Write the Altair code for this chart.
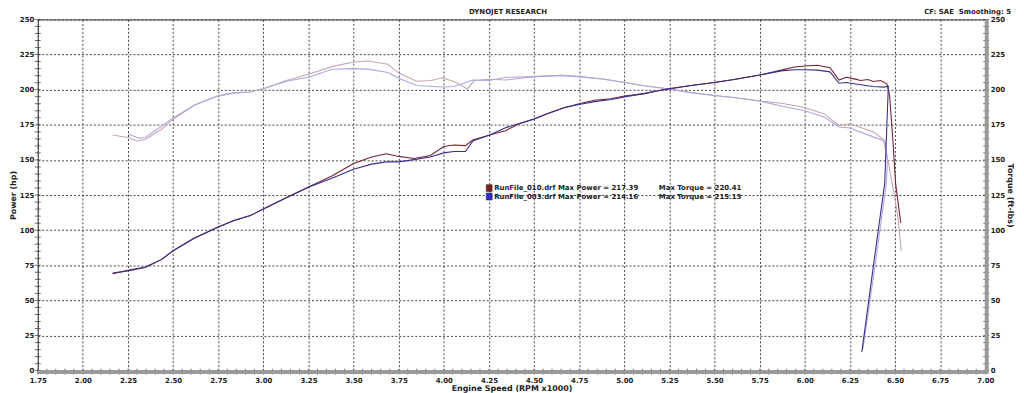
import altair as alt
import pandas as pd

# ---------------- data ----------------
P010_RPM = [2.165, 2.25, 2.346, 2.437, 2.50, 2.616, 2.75, 2.837, 2.928, 3.00, 3.127, 3.25, 3.38, 3.50,
            3.60, 3.68, 3.75, 3.835, 3.925, 4.00, 4.055, 4.12, 4.16, 4.25, 4.345, 4.418, 4.50, 4.58,
            4.67, 4.75, 4.835, 4.926, 5.00, 5.11, 5.18, 5.25, 5.36, 5.50, 5.616, 5.75, 5.87, 5.943,
            6.00, 6.07, 6.14, 6.19, 6.23, 6.28, 6.31, 6.35, 6.38, 6.42, 6.455, 6.47, 6.49, 6.503, 6.532]
P010_HP = [69.4, 71.0, 73.4, 79.2, 85.4, 94.2, 102.3, 106.9, 110.4, 115.0, 123.1, 130.8, 138.5, 147.5,
           152.1, 154.4, 152.5, 151.0, 153.2, 159.5, 160.6, 160.2, 164.1, 167.6, 171.0, 175.7, 179.2, 183.3,
           187.3, 190.0, 192.5, 193.5, 195.5, 197.2, 199.1, 200.5, 202.8, 205.1, 207.4, 210.4, 213.9, 216.2,
           216.9, 217.4, 215.7, 206.9, 208.8, 207.5, 206.5, 207.2, 205.8, 206.5, 204.2, 196.0, 161.0, 133.5, 105.0]

P003_RPM = [2.165, 2.25, 2.346, 2.437, 2.50, 2.616, 2.75, 2.837, 2.928, 3.00, 3.127, 3.25, 3.38, 3.50,
            3.60, 3.68, 3.75, 3.835, 3.925, 4.00, 4.055, 4.12, 4.16, 4.25, 4.345, 4.418, 4.50, 4.58,
            4.67, 4.75, 4.835, 4.926, 5.00, 5.11, 5.18, 5.25, 5.36, 5.50, 5.616, 5.75, 5.87, 5.943,
            6.00, 6.07, 6.14, 6.19, 6.23, 6.31, 6.38, 6.44, 6.463, 6.443, 6.379, 6.316]
P003_HP = [69.0, 71.5, 73.8, 79.2, 85.4, 94.2, 102.3, 106.9, 110.4, 115.0, 123.1, 130.5, 137.0, 143.3,
           147.0, 148.6, 148.6, 150.2, 152.1, 155.0, 156.0, 156.0, 163.4, 167.6, 173.0, 176.0, 179.2, 183.3,
           187.3, 189.5, 191.5, 193.0, 194.9, 197.2, 199.1, 200.8, 202.8, 205.1, 207.4, 210.4, 213.4, 214.2,
           214.2, 213.9, 212.7, 204.6, 205.1, 203.5, 202.3, 201.8, 202.5, 133.5, 73.3, 13.2]

T010_RPM = [2.165, 2.25, 2.30, 2.346, 2.437, 2.50, 2.619, 2.75, 2.837, 2.928, 3.00, 3.127, 3.25, 3.38,
            3.50, 3.58, 3.69, 3.75, 3.85, 3.93, 3.99, 4.055, 4.10, 4.13, 4.17, 4.25, 4.345, 4.50, 4.655,
            4.75, 4.89, 5.00, 5.11, 5.25, 5.36, 5.50, 5.616, 5.75, 5.87, 6.00, 6.11, 6.19, 6.25, 6.38,
            6.435, 6.46, 6.50, 6.515, 6.535]
T010_TQ = [167.8, 166.0, 163.5, 164.5, 172.0, 179.0, 189.1, 195.6, 197.7, 198.4, 200.7, 206.5, 211.0, 216.4,
           219.7, 220.4, 218.1, 211.8, 206.0, 206.5, 208.5, 205.8, 203.0, 200.5, 206.5, 207.4, 206.9, 209.3, 210.2,
           209.3, 207.4, 205.1, 202.8, 200.5, 198.1, 195.8, 194.2, 191.9, 190.3, 187.3, 182.6, 174.5, 175.7, 169.9,
           164.7, 150.0, 122.0, 110.0, 85.0]

T003_RPM = [2.25, 2.31, 2.346, 2.437, 2.50, 2.619, 2.75, 2.837, 2.928, 3.00, 3.127, 3.25, 3.38, 3.50,
            3.58, 3.69, 3.75, 3.85, 3.99, 4.055, 4.10, 4.16, 4.25, 4.345, 4.50, 4.655, 4.75, 4.89, 5.00,
            5.11, 5.25, 5.36, 5.50, 5.616, 5.75, 5.87, 6.00, 6.11, 6.19, 6.25, 6.38, 6.445, 6.458, 6.452,
            6.39, 6.322]
T003_TQ = [168.5, 165.5, 166.0, 174.1, 179.9, 189.1, 195.6, 197.7, 198.4, 200.7, 206.0, 208.8, 214.6, 215.0,
           214.6, 212.3, 208.1, 203.0, 201.9, 202.3, 204.0, 206.9, 206.5, 208.8, 209.3, 210.2, 209.3, 207.4, 205.1,
           202.8, 200.5, 198.1, 195.8, 194.2, 191.9, 188.4, 185.0, 180.3, 173.4, 172.7, 166.4, 163.5, 150.0, 133.5,
           75.0, 15.5]

SERIES = ["Torque 010", "Torque 003", "Power 010", "Power 003"]
COLORS = ["#c9a5b0", "#aaa8df", "#74232f", "#3a2f8c"]

X_TICKS = [1.75, 2.00, 2.25, 2.50, 2.75, 3.00, 3.25, 3.50, 3.75, 4.00, 4.25, 4.50, 4.75, 5.00,
           5.25, 5.50, 5.75, 6.00, 6.25, 6.50, 6.75, 7.00]
Y_TICKS = [0, 25, 50, 75, 100, 125, 150, 175, 200, 225, 250]
X_MINOR = [round(1.75 + 0.05 * i, 2) for i in range(106)]
Y_MINOR = [5 * i for i in range(51)]

LEGEND_NAMES = ["RunFile_010.drf Max Power = 217.39", "RunFile_003.drf Max Power = 214.16"]
LEGEND_TQ = ["Max Torque = 220.41", "Max Torque = 215.13"]
LEGEND_COLORS = ["#7b1f22", "#2b2bd0"]

# ---------------- build table ----------------
rows = []
for name, xs, ys in [("Torque 010", T010_RPM, T010_TQ), ("Torque 003", T003_RPM, T003_TQ),
                     ("Power 010", P010_RPM, P010_HP), ("Power 003", P003_RPM, P003_HP)]:
    for i, (a, b) in enumerate(zip(xs, ys)):
        rows.append({"series": name, "rpm": a, "val": b, "idx": i})
df = pd.DataFrame(rows)

W, H = 955, 354
FONT = "DejaVu Sans"
xs = alt.Scale(domain=[1.75, 7.0], nice=False, zero=False)
ys = alt.Scale(domain=[0, 250], nice=False)

lines = alt.Chart(df).mark_line(strokeWidth=1.1).encode(
    x=alt.X("rpm:Q", scale=xs, axis=alt.Axis(
        values=X_TICKS, format=".2f", title="Engine Speed (RPM x1000)", grid=True,
        gridColor="#444", gridDash=[2, 2], gridWidth=1, ticks=False, domain=False,
        labelPadding=6, titlePadding=1, labelFlush=False)),
    y=alt.Y("val:Q", scale=ys, axis=alt.Axis(
        values=Y_TICKS, title="Power (hp)", grid=True, gridColor="#444", gridDash=[2, 2],
        gridWidth=1, ticks=False, domain=False, labelPadding=4, titlePadding=2, labelFlush=False)),
    color=alt.Color("series:N", scale=alt.Scale(domain=SERIES, range=COLORS), legend=None),
    detail="series:N",
    order="idx:Q",
)

right_df = pd.DataFrame({"v": Y_MINOR})
right_ticks = alt.Chart(right_df).mark_tick(orient="horizontal", size=6, thickness=1, color="#333").encode(
    y=alt.Y("v:Q", scale=ys, axis=alt.Axis(
        orient="right", values=Y_TICKS, title="Torque (ft-lbs)", grid=False, ticks=False,
        domain=False, labelPadding=5, titlePadding=1, labelFlush=False)),
    x=alt.value(W + 1),
)
left_ticks = alt.Chart(right_df).mark_tick(orient="horizontal", size=6, thickness=1, color="#333").encode(
    y=alt.Y("v:Q", scale=ys, axis=None),
    x=alt.value(0),
)
bottom_df = pd.DataFrame({"v": X_MINOR})
bottom_ticks = alt.Chart(bottom_df).mark_tick(orient="vertical", size=6, thickness=1, color="#333").encode(
    x=alt.X("v:Q", scale=xs, axis=None),
    y=alt.value(H + 1),
)

one = pd.DataFrame({"k": [0]})
bottom_bar = alt.Chart(one).mark_rule(color="#9a9a9a", strokeWidth=4).encode(
    x=alt.value(0), x2=alt.value(W + 3), y=alt.value(H + 1.5))
right_bar = alt.Chart(one).mark_rule(color="#9a9a9a", strokeWidth=4).encode(
    x=alt.value(W + 1.5), y=alt.value(0), y2=alt.value(H + 3))

header = alt.Chart(one).mark_text(font=FONT, fontWeight="bold", fontSize=7, color="#222",
                                  align="center", baseline="middle").encode(
    x=alt.value(474), y=alt.value(-7), text=alt.value("DYNOJET RESEARCH"))
cf = alt.Chart(one).mark_text(font=FONT, fontWeight="bold", fontSize=7, color="#222",
                              align="right", baseline="middle").encode(
    x=alt.value(981), y=alt.value(-7), text=alt.value("CF: SAE\u00a0\u00a0Smoothing: 5"))

legend_layers = []
for i in range(2):
    yc = 170 + 8.5 * i
    legend_layers.append(alt.Chart(one).mark_rect(color=LEGEND_COLORS[i], stroke="#333", strokeWidth=0.5).encode(
        x=alt.value(452), x2=alt.value(458), y=alt.value(yc - 3.5), y2=alt.value(yc + 3.5)))
    legend_layers.append(alt.Chart(one).mark_text(font=FONT, fontWeight="bold", fontSize=7, color="#222",
                                                  align="left", baseline="middle").encode(
        x=alt.value(460), y=alt.value(yc), text=alt.value(LEGEND_NAMES[i])))
    legend_layers.append(alt.Chart(one).mark_text(font=FONT, fontWeight="bold", fontSize=7, color="#222",
                                                  align="left", baseline="middle").encode(
        x=alt.value(626), y=alt.value(yc), text=alt.value(LEGEND_TQ[i])))

chart = alt.layer(
    lines, right_ticks, left_ticks, bottom_ticks, bottom_bar, right_bar, header, cf, *legend_layers
).resolve_scale(x="shared", y="shared").resolve_axis(x="independent", y="independent").properties(
    width=W, height=H, autosize="none",
    padding={"left": 30, "top": 10, "right": 31, "bottom": 21},
    background="white",
).configure_view(stroke="#333", strokeWidth=1).configure_axis(
    labelFont=FONT, labelFontWeight="bold", labelFontSize=7, labelColor="#222",
    titleFont=FONT, titleFontWeight="bold", titleFontSize=8, titleColor="#222",
)

chart.save("out.html", embed_options={"renderer": "svg", "actions": False})
